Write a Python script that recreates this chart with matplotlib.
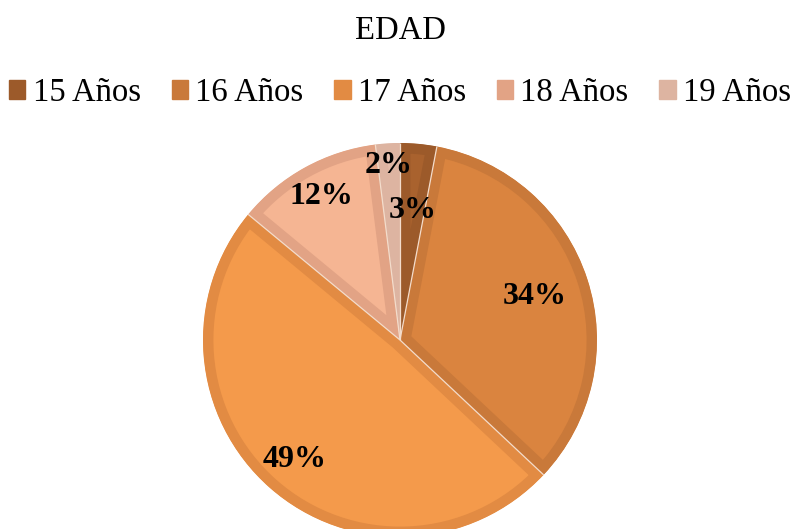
import matplotlib
matplotlib.use("Agg")
import matplotlib.pyplot as plt
from matplotlib.patches import Patch
import numpy as np

categories = ["15 Años", "16 Años", "17 Años", "18 Años", "19 Años"]
values = [3, 34, 49, 12, 2]
labels = ["3%", "34%", "49%", "12%", "2%"]

fill_colors = ["#A9622E", "#DA843F", "#F49A4B", "#F5B593", "#E9C3B2"]
edge_colors = ["#9C5A2A", "#C9793A", "#E28B43", "#E2A385", "#DDB4A1"]
label_dist = [0.66, 0.72, 0.81, 0.83, 0.89]

plt.rcParams['font.family'] = ['Liberation Serif', 'DejaVu Serif']

fig = plt.figure(figsize=(8.0, 5.29), dpi=100)
r_px = 197
w = 2 * r_px / 800
h = 2 * r_px / 529
cx, cy = 0.5, (529 - 340) / 529
ax = fig.add_axes([cx - w / 2, cy - h / 2, w, h])

wedges, _ = ax.pie(values, startangle=90, counterclock=False,
                   colors=fill_colors, radius=1.0,
                   wedgeprops=dict(linewidth=15, edgecolor="none"))
for wd, ec in zip(wedges, edge_colors):
    wd.set_edgecolor(ec)
    wd.set_joinstyle("round")
    wd.set_clip_path(wd)
    wd.set_clip_on(True)

# thin light separators between slices
total = sum(values)
cum = np.cumsum([0] + values)
for c in cum[:-1]:
    ang = np.deg2rad(90 - 360 * c / total)
    ax.plot([0, np.cos(ang)], [0, np.sin(ang)], color="#F3DCCB", lw=0.9, zorder=5,
            solid_capstyle="butt")

for i, (v, lab) in enumerate(zip(values, labels)):
    mid = (cum[i] + v / 2) / total
    ang = np.deg2rad(90 - 360 * mid)
    d = label_dist[i]
    ax.text(d * np.cos(ang), d * np.sin(ang), lab, ha="center", va="center",
            fontsize=23, fontweight="bold", color="black", zorder=6)

ax.set_xlim(-1, 1)
ax.set_ylim(-1, 1)
ax.set_aspect("equal")
ax.axis("off")

fig.text(0.5, (529 - 31) / 529, "EDAD", ha="center", va="center", fontsize=23.5)

handles = [Patch(facecolor=ec, edgecolor=ec, linewidth=1.0) for ec in edge_colors]
fig.legend(handles, categories, loc="center", bbox_to_anchor=(0.5, (529 - 93) / 529),
           ncol=5, frameon=False, fontsize=23.5, handlelength=0.5, handleheight=0.5,
           handletextpad=0.22, columnspacing=0.95, borderaxespad=0, borderpad=0)

fig.savefig("out.png", dpi=100)
